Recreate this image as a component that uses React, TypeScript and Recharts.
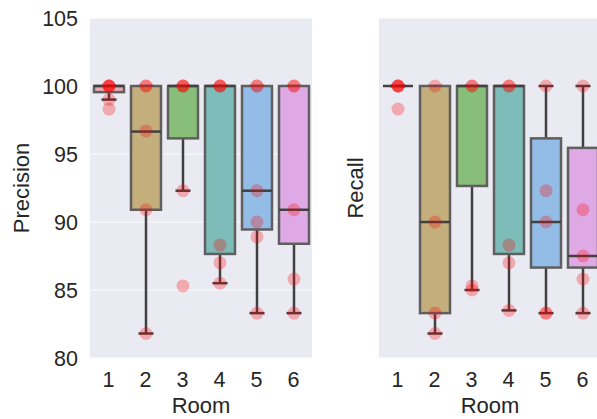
import React from "react";
import { ComposedChart, Bar, XAxis, YAxis, CartesianGrid } from "recharts";

const rooms = ["1", "2", "3", "4", "5", "6"];
const yTicks = [80, 85, 90, 95, 100, 105];

// box stats per room: lower whisker, Q1, median, Q3, upper whisker
const precisionLow = [99.0, 81.8, 92.3, 85.5, 83.3, 83.3];
const precisionQ1 = [99.55, 90.9, 96.15, 87.65, 89.45, 88.4];
const precisionMedian = [100, 96.65, 100, 100, 92.3, 90.9];
const precisionQ3 = [100, 100, 100, 100, 100, 100];
const precisionHigh = [100, 100, 100, 100, 100, 100];
const precisionPoints = [
  [100, 100, 100, 100, 99.0, 98.3],
  [100, 100, 96.7, 90.9, 81.8],
  [100, 100, 100, 92.3, 85.3],
  [100, 100, 100, 88.3, 87.0, 85.5],
  [100, 100, 92.3, 90.0, 88.9, 83.3],
  [100, 100, 90.9, 85.8, 83.3],
];

const recallLow = [100, 81.8, 85.0, 83.5, 83.3, 83.3];
const recallQ1 = [100, 83.3, 92.65, 87.65, 86.65, 86.65];
const recallMedian = [100, 90.0, 100, 100, 90.0, 87.5];
const recallQ3 = [100, 100, 100, 100, 96.15, 95.45];
const recallHigh = [100, 100, 100, 100, 100, 100];
const recallPoints = [
  [100, 100, 100, 100, 98.3],
  [100, 90.0, 83.3, 81.8],
  [100, 100, 85.3, 85.0],
  [100, 100, 88.3, 87.0, 83.5],
  [100, 92.3, 90.0, 83.3, 83.3],
  [100, 90.9, 87.5, 85.8, 83.3],
];

const palette = ["#eaa8b3", "#c4ae7c", "#87bf7a", "#7dbcb8", "#93bde6", "#dfa9e5"];
const font = "'Liberation Sans', Arial, sans-serif";
const ink = "#262626";

function buildRows(
  low: number[],
  q1: number[],
  med: number[],
  q3: number[],
  high: number[],
  points: number[][]
) {
  return rooms.map((room, i) => {
    const all = [low[i], high[i], ...points[i]];
    const lo = Math.min(...all);
    const hi = Math.max(...all);
    return {
      room,
      low: low[i],
      q1: q1[i],
      med: med[i],
      q3: q3[i],
      high: high[i],
      points: points[i],
      lo,
      hi,
      color: palette[i],
    };
  });
}

const precisionRows = buildRows(
  precisionLow, precisionQ1, precisionMedian, precisionQ3, precisionHigh, precisionPoints
);
const recallRows = buildRows(
  recallLow, recallQ1, recallMedian, recallQ3, recallHigh, recallPoints
);

function BoxShape(props: any) {
  const { x, y, width, height, payload } = props;
  const top = Math.min(y, y + height);
  const h = Math.abs(height);
  const span = payload.hi - payload.lo || 1;
  const py = (v: number) => top + ((payload.hi - v) / span) * h;
  const cx = x + width / 2;
  const cap = width / 4;
  const dark = "#404040";
  const lw = 2.5;
  return (
    <g>
      <line x1={cx} x2={cx} y1={py(payload.high)} y2={py(payload.q3)} stroke={dark} strokeWidth={lw} />
      <line x1={cx} x2={cx} y1={py(payload.q1)} y2={py(payload.low)} stroke={dark} strokeWidth={lw} />
      <line x1={cx - cap} x2={cx + cap} y1={py(payload.high)} y2={py(payload.high)} stroke={dark} strokeWidth={lw} />
      <line x1={cx - cap} x2={cx + cap} y1={py(payload.low)} y2={py(payload.low)} stroke={dark} strokeWidth={lw} />
      <rect
        x={x}
        y={py(payload.q3)}
        width={width}
        height={py(payload.q1) - py(payload.q3)}
        fill={payload.color}
        stroke="#5f5f5f"
        strokeWidth={lw}
      />
      <line x1={x} x2={x + width} y1={py(payload.med)} y2={py(payload.med)} stroke={dark} strokeWidth={lw} />
      {payload.points.map((v: number, k: number) => (
        <circle key={k} cx={cx} cy={py(v)} r={6.5} fill="#ff0000" fillOpacity={0.28} />
      ))}
    </g>
  );
}

function yTitle(text: string, dx: number) {
  return (p: any) => {
    const vb = p.viewBox;
    const cx = vb.x + dx;
    const cy = vb.y + vb.height / 2;
    return (
      <text
        x={cx}
        y={cy}
        transform={`rotate(-90 ${cx} ${cy})`}
        textAnchor="middle"
        dominantBaseline="central"
        fontSize={22}
        fontFamily={font}
        fill={ink}
      >
        {text}
      </text>
    );
  };
}

function xTitle(p: any) {
  const vb = p.viewBox;
  return (
    <text
      x={vb.x + vb.width / 2}
      y={vb.y + 55}
      textAnchor="middle"
      fontSize={22}
      fontFamily={font}
      fill={ink}
    >
      Room
    </text>
  );
}

function Panel({
  rows,
  title,
  width,
  axisWidth,
  titleX,
  showTicks,
  right,
}: {
  rows: any[];
  title: string;
  width: number;
  axisWidth: number;
  titleX: number;
  showTicks: boolean;
  right: number;
}) {
  return (
    <ComposedChart
      width={width}
      height={419}
      data={rows}
      margin={{ top: 18, right, bottom: 0, left: 0 }}
    >
      <CartesianGrid vertical={false} stroke="#ffffff" fill="#eaeaf2" />
      <XAxis
        dataKey="room"
        type="category"
        height={61}
        tickLine={false}
        axisLine={false}
        tickMargin={8}
        tick={{ fontSize: 21.5, fontFamily: font, fill: ink }}
        label={{ content: xTitle }}
      />
      <YAxis
        type="number"
        domain={[80, 105]}
        ticks={yTicks}
        interval={0}
        width={axisWidth}
        tickLine={false}
        axisLine={false}
        tickMargin={6}
        tick={showTicks ? { fontSize: 21.5, fontFamily: font, fill: ink } : false}
        label={{ content: yTitle(title, titleX) }}
      />
      <Bar
        dataKey={(d: any) => [d.lo, d.hi]}
        barSize={30}
        shape={BoxShape}
        isAnimationActive={false}
      />
    </ComposedChart>
  );
}

export default function App() {
  return (
    <div
      style={{
        position: "absolute",
        left: 0,
        top: 0,
        width: 597,
        height: 419,
        overflow: "hidden",
        background: "#ffffff",
      }}
    >
      <div style={{ position: "absolute", left: 0, top: 0 }}>
        <Panel rows={precisionRows} title="Precision" width={340} axisWidth={90} titleX={21} showTicks right={28} />
      </div>
      <div style={{ position: "absolute", left: 340, top: 0 }}>
        <Panel rows={recallRows} title="Recall" width={262} axisWidth={39} titleX={15} showTicks={false} right={1} />
      </div>
    </div>
  );
}
